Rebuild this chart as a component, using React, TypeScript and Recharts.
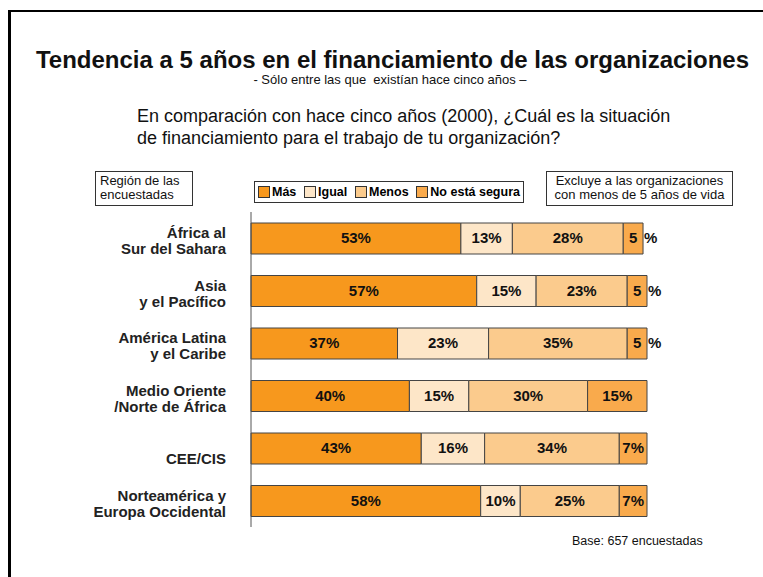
import React from 'react';
import { BarChart, Bar, XAxis, YAxis, LabelList, Legend } from 'recharts';

const regions = [
  ['África al', 'Sur del Sahara'],
  ['Asia ', 'y el Pacífico'],
  ['América Latina', 'y el Caribe'],
  ['Medio Oriente', '/Norte de África'],
  ['', 'CEE/CIS'],
  ['Norteamérica y', 'Europa Occidental'],
];
const mas = [53, 57, 37, 40, 43, 58];
const igual = [13, 15, 23, 15, 16, 10];
const menos = [28, 23, 35, 30, 34, 25];
const noSegura = [5, 5, 5, 15, 7, 7];
const boundaryTicks = [0, 1, 2, 3, 4, 5, 6];

const SERIES = [
  { key: 'mas', name: 'Más', color: '#F7981D' },
  { key: 'igual', name: 'Igual', color: '#FDE6C8' },
  { key: 'menos', name: 'Menos', color: '#FBCB8D' },
  { key: 'noSegura', name: 'No está segura', color: '#F9AA4C' },
];

const data = regions.map((r, i) => ({
  region: r.join('|'),
  mas: mas[i],
  igual: igual[i],
  menos: menos[i],
  noSegura: noSegura[i],
}));

const FONT = '"Liberation Sans", Arial, sans-serif';

const RegionTick = (props: any) => {
  const { x, y, payload } = props;
  const [l1, l2] = String(payload.value).split('|');
  return (
    <g>
      <text x={x - 17} y={y - 4} textAnchor="end" dominantBaseline="middle"
        fontFamily={FONT} fontSize={15} fontWeight="bold" fill="#222">{l1}</text>
      <text x={x - 17} y={y + 12} textAnchor="end" dominantBaseline="middle"
        fontFamily={FONT} fontSize={15} fontWeight="bold" fill="#222">{l2}</text>
    </g>
  );
};

const ValueLabel = (props: any) => {
  const { x, y, width, height, value } = props;
  const cx = x + width / 2;
  const cy = y + height / 2 + 1;
  const style = { fontFamily: FONT, fontSize: 15, fontWeight: 'bold' as const, fill: '#111' };
  if (width < 24) {
    return (
      <g>
        <text x={cx} y={cy} textAnchor="middle" dominantBaseline="middle" {...style}>{value}</text>
        <text x={x + width + 1} y={cy} textAnchor="start" dominantBaseline="middle" {...style}>%</text>
      </g>
    );
  }
  return (
    <text x={cx} y={cy} textAnchor="middle" dominantBaseline="middle" {...style}>{value}%</text>
  );
};

const LegendBox = () => (
  <div style={{
    border: '1px solid #333', height: 22, width: 270, display: 'flex', alignItems: 'center',
    justifyContent: 'space-between', padding: '0 3px', fontFamily: FONT, fontSize: 12.5, fontWeight: 'bold', boxSizing: 'border-box',
  }}>
    {SERIES.map(s => (
      <span key={s.key} style={{ display: 'flex', alignItems: 'center', gap: 2, whiteSpace: 'nowrap' }}>
        <span style={{ width: 10, height: 10, background: s.color, border: '1px solid #333', display: 'inline-block' }} />
        {s.name}
      </span>
    ))}
  </div>
);

const abs = (left: number, top: number, extra: React.CSSProperties = {}): React.CSSProperties => ({
  position: 'absolute', left, top, fontFamily: FONT, color: '#111', ...extra,
});

export default function App() {
  return (
    <div style={{ position: 'absolute', left: 0, top: 0, width: 763, height: 577, background: '#fff', overflow: 'hidden' }}>
      <div style={{ position: 'absolute', left: 8, top: 10, width: 800, height: 600, borderTop: '2px solid #000', borderLeft: '3px solid #000' }} />
      <div style={abs(0, 46, { width: 785, textAlign: 'center', fontSize: 24, fontWeight: 'bold', whiteSpace: 'nowrap' })}>
        Tendencia a 5 años en el financiamiento de las organizaciones
      </div>
      <div style={abs(0, 72, { width: 780, textAlign: 'center', fontSize: 13, whiteSpace: 'pre' })}>
        {'- Sólo entre las que  existían hace cinco años –'}
      </div>
      <div style={abs(137, 105, { fontSize: 18, lineHeight: '22px', whiteSpace: 'nowrap' })}>
        En comparación con hace cinco años (2000), ¿Cuál es la situación<br />
        de financiamiento para el trabajo de tu organización?
      </div>
      <div style={abs(95, 171, { width: 98, height: 35, border: '1px solid #333', boxSizing: 'border-box', fontSize: 13, lineHeight: '14px', padding: '2px 4px', whiteSpace: 'nowrap' })}>
        Región de las<br />encuestadas
      </div>
      <div style={abs(546, 171, { width: 187, height: 35, border: '1px solid #333', boxSizing: 'border-box', fontSize: 13, lineHeight: '14px', padding: '2px 0', textAlign: 'center', whiteSpace: 'nowrap' })}>
        Excluye a las organizaciones<br />con menos de 5 años de vida
      </div>
      <div style={abs(572, 534, { fontSize: 12.5 })}>Base: 657 encuestadas</div>

      <div style={{ position: 'absolute', left: 0, top: 0 }}>
        <BarChart width={763} height={577} data={data} layout="vertical"
          margin={{ top: 212, right: 116, bottom: 50, left: 11 }}>
          <XAxis type="number" domain={[0, 100]} hide />
          <YAxis yAxisId="cat" type="category" dataKey="region" width={240} tick={<RegionTick />}
            axisLine={false} tickLine={false} interval={0} />
          <YAxis yAxisId="edge" type="number" domain={[0, 6]} ticks={boundaryTicks} width={1} mirror
            tick={false} tickSize={-4} axisLine={{ stroke: '#555' }} tickLine={{ stroke: '#555' }} />
          <Legend layout="horizontal" verticalAlign="middle" align="center" content={() => <LegendBox />}
            wrapperStyle={{ position: 'absolute', top: 181, left: 254, width: 270 }} />
          {SERIES.map(s => (
            <Bar key={s.key} yAxisId="cat" dataKey={s.key} name={s.name} stackId="a" fill={s.color}
              stroke="#444" strokeWidth={1} barSize={31} isAnimationActive={false}>
              <LabelList dataKey={s.key} content={<ValueLabel />} />
            </Bar>
          ))}
        </BarChart>
      </div>
    </div>
  );
}
